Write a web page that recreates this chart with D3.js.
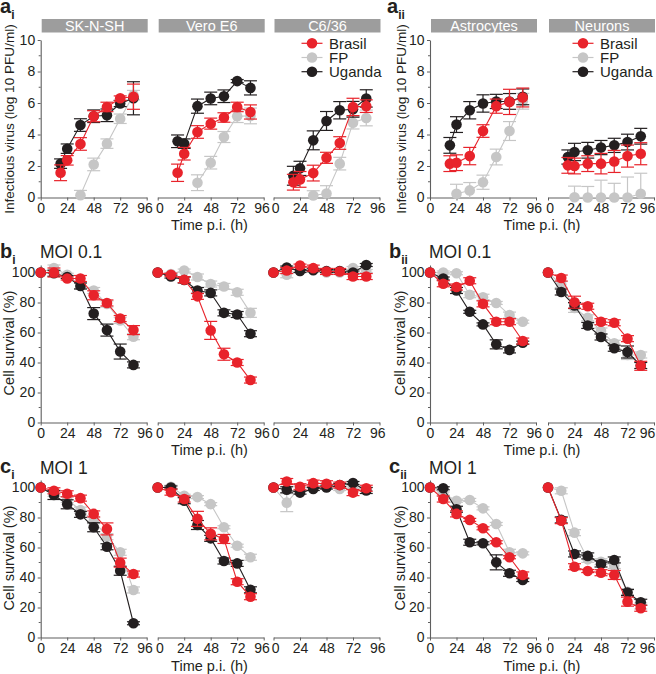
<!DOCTYPE html>
<html><head><meta charset="utf-8">
<script src="https://cdn.jsdelivr.net/npm/d3@7"></script>
<style>body{margin:0;background:#fff} svg{display:block} text{font-family:"Liberation Sans",Arial,sans-serif}</style>
</head><body><svg id="c" width="656" height="674"></svg>
<script>
// ---------- data ----------
const cellsLeft = ["SK-N-SH", "Vero E6", "C6/36"];
const cellsRight = ["Astrocytes", "Neurons"];
const seriesNames = ["Brasil", "FP", "Uganda"];
const timeTicks = [0, 24, 48, 72, 96];
const virusTicks = [0, 2, 4, 6, 8, 10];
const survivalTicks = [0, 20, 40, 60, 80, 100];
// each point: [hours p.i., mean, error]
// (a) infectious virus, log10 PFU/ml
const virusSKNSH = {
  Brasil: [[18,1.57,0.5],[24,2.36,0.3],[36,3.4,0.4],[48,5.16,0.35],[60,5.75,0.3],[72,6.3,0.15],[84,6.4,0.8]],
  FP:     [[36,0.15,0.3],[48,2.1,0.4],[60,3.42,0.3],[72,5.0,0.3],[84,6.5,0.3]],
  Uganda: [[18,2.15,0.3],[24,3.1,0.3],[36,4.6,0.4],[48,5.16,0.4],[60,5.22,0.4],[72,5.97,0.2],[84,6.3,1.05]]
};
const virusVero = {
  Brasil: [[18,1.57,0.55],[24,2.78,0.4],[36,4.16,0.4],[48,4.69,0.35],[60,5.08,0.3],[72,5.75,0.3],[84,5.43,0.45]],
  FP:     [[36,0.94,0.5],[48,2.21,0.4],[60,3.84,0.35],[72,5.16,0.4],[84,5.18,0.5]],
  Uganda: [[18,3.57,0.4],[24,3.42,0.3],[36,5.8,0.45],[48,6.29,0.4],[60,6.43,0.4],[72,7.39,0.1],[84,6.96,0.45]]
};
const virusC636 = {
  Brasil: [[18,0.97,0.5],[24,1.15,0.5],[36,1.55,0.5],[48,2.52,0.35],[60,3.46,0.4],[72,5.75,0.55],[84,5.8,0.4]],
  FP:     [[36,0.13,0.3],[48,0.25,0.5],[60,2.15,0.4],[72,4.75,0.4],[84,5.05,0.5]],
  Uganda: [[18,1.38,0.6],[24,1.85,0.45],[36,3.63,0.6],[48,4.86,0.6],[60,5.54,0.55],[72,5.6,0.5],[84,6.29,0.55]]
};
const virusAstro = {
  Brasil: [[18,2.15,0.5],[24,2.21,0.5],[36,2.63,0.55],[48,4.22,0.4],[60,5.8,0.45],[72,6.07,0.8],[84,6.35,0.6]],
  FP:     [[24,0.24,0.6],[36,0.45,0.5],[48,0.97,0.45],[60,2.57,0.5],[72,4.22,0.6],[84,6.11,0.5]],
  Uganda: [[18,3.31,0.5],[24,4.63,0.5],[36,5.54,0.55],[48,5.97,0.55],[60,6.1,0.45],[72,6.1,0.5],[84,6.39,0.5]]
};
const virusNeuron = {
  Brasil: [[18,2.04,0.5],[24,2.0,0.5],[36,2.15,0.5],[48,2.15,0.65],[60,2.29,0.7],[72,2.63,0.7],[84,2.78,0.7]],
  FP:     [[24,0.02,0.7],[36,0.0,0.7],[48,0.0,1.1],[60,0.0,0.9],[72,0.0,1.3],[84,0.24,1.3]],
  Uganda: [[18,2.57,0.45],[24,2.89,0.55],[36,3.0,0.5],[48,3.17,0.45],[60,3.31,0.45],[72,3.52,0.5],[84,3.89,0.5]]
};
// (b) cell survival %, MOI 0.1
const survLowSKNSH = {
  Brasil: [[0,100,0],[12,100,3],[24,96,1],[36,96,2],[48,84.8,3],[60,79.7,2],[72,69.3,2],[84,61.6,3]],
  FP:     [[0,100,0],[12,103,2],[24,98.5,1],[36,91.2,2],[48,88,2],[60,79,2],[72,68,2],[84,57.2,2]],
  Uganda: [[0,100,0],[12,99.5,2],[24,97,1],[36,91,2],[48,72.6,4],[60,61.6,4],[72,47.3,5],[84,38.4,2]]
};
const survLowVero = {
  Brasil: [[0,100,0],[12,98.5,1],[24,95.2,2],[36,84.1,2],[48,61.4,6],[60,45.5,4],[72,40,2],[84,28.3,2]],
  FP:     [[0,100,0],[12,99,1],[24,101.3,1],[36,97,2],[48,92.3,2],[60,90.7,2],[72,86.8,2],[84,73.1,3]],
  Uganda: [[0,100,0],[12,97.3,1],[24,95,2],[36,88,2],[48,86.4,2],[60,73.1,2],[72,72,2],[84,59.2,2]]
};
const survLowC636 = {
  Brasil: [[0,100,0],[12,101.3,2],[24,104.6,1],[36,102.9,2],[48,100.7,2],[60,100.7,2],[72,97.3,2],[84,97.3,2]],
  FP:     [[0,100,0],[12,98.5,2],[24,101,1],[36,102,1],[48,100,1],[60,100,1],[72,103,1],[84,101,1]],
  Uganda: [[0,100,0],[12,103.3,1],[24,101,1],[36,101.5,1],[48,101,1],[60,101,1],[72,100,1],[84,105,1]]
};
const survLowAstro = {
  Brasil: [[0,100,0],[12,92.5,2],[24,90.3,2],[36,94.5,2],[48,79.1,2],[60,67.2,2],[72,67.2,2],[84,54.3,2]],
  FP:     [[0,100,0],[12,100,1],[24,99.5,1],[36,85.2,2],[48,83.5,2],[60,79.7,1],[72,71.6,2],[84,67.2,1]],
  Uganda: [[0,100,0],[12,96,1],[24,88,2],[36,73.8,1],[48,65.4,1],[60,52.1,3],[72,48.4,2],[84,53.2,1]]
};
const survLowNeuron = {
  Brasil: [[0,100,0],[12,96.3,2],[24,80.2,4],[36,77.5,2],[48,67.2,2],[60,66.5,2],[72,55.9,2],[84,37.8,3]],
  FP:     [[0,100,0],[12,92,2],[24,76.4,3],[36,69.8,2],[48,61,2],[60,52.8,2],[72,45,3],[84,45,2]],
  Uganda: [[0,100,0],[12,87,2],[24,78,2],[36,64.7,2],[48,57,2],[60,49.5,2],[72,47,4],[84,38,2]]
};
// (c) cell survival %, MOI 1
const survHighSKNSH = {
  Brasil: [[0,100,0],[12,97.8,2],[24,95.8,2],[36,92.9,2],[48,82.4,2],[60,72.4,4],[72,49.9,3],[84,42.3,2]],
  FP:     [[0,100,0],[12,96,2],[24,92,2],[36,84.9,2],[48,77.9,2],[60,67.2,2],[72,56.8,2],[84,31.7,2]],
  Uganda: [[0,100,0],[12,95,3],[24,88.8,3],[36,82.1,2],[48,73.5,3],[60,60.5,2],[72,44.5,3],[84,9.5,1]]
};
const survHighVero = {
  Brasil: [[0,100,0],[12,96.9,2],[24,92.3,2],[36,79.1,5],[48,69.1,4],[60,65.7,3],[72,37.2,2],[84,27.2,2]],
  FP:     [[0,100,0],[12,100.5,1],[24,94.5,1],[36,93.6,1],[48,88.9,1],[60,73.5,1],[72,61.2,1],[84,53.5,2]],
  Uganda: [[0,100,0],[12,100,1],[24,91.2,2],[36,75,3],[48,66.1,2],[60,51,2],[72,49.4,2],[84,31.8,2]]
};
const survHighC636 = {
  Brasil: [[0,100,0],[12,104,2],[24,100.5,2],[36,102.9,2],[48,102.5,2],[60,101.6,2],[72,96.6,2],[84,99.5,2]],
  FP:     [[0,100,0],[12,89.9,6],[24,100,1],[36,100,1],[48,101,1],[60,99,1],[72,100,1],[84,99,1]],
  Uganda: [[0,100,0],[12,98.5,2],[24,96.6,1],[36,99,1],[48,100,1],[60,101.7,1],[72,103,1],[84,98,2]]
};
const survHighAstro = {
  Brasil: [[0,100,0],[12,92.3,2],[24,82.4,2],[36,78.4,1],[48,72.8,1],[60,63.5,1],[72,53.5,1],[84,41.7,2]],
  FP:     [[0,100,0],[12,96,1],[24,91.2,1],[36,91.7,1],[48,86.1,1],[60,75.7,1],[72,56.8,2],[84,56.1,1]],
  Uganda: [[0,100,0],[12,99.5,1],[24,85.5,2],[36,63.5,2],[48,62.8,1],[60,50.1,5],[72,42.8,2],[84,38.3,1]]
};
const survHighNeuron = {
  Brasil: [[0,100,0],[12,77.9,2],[24,47.2,2],[36,44.3,1],[48,43.2,2],[60,41.7,3],[72,23.9,3],[84,19.5,2]],
  FP:     [[0,100,0],[12,97.8,2],[24,69.9,2],[36,52.1,2],[48,50.5,2],[60,48,2],[72,30.5,2],[84,21,2]],
  Uganda: [[0,100,0],[12,78.4,2],[24,55.7,2],[36,54.4,2],[48,49,2],[60,51.7,2],[72,30,2],[84,23.5,2]]
};

// ---------- styles / layout ----------
const colors = {Brasil: "#e8232b", FP: "#c6c6c6", Uganda: "#231f20"};
const drawOrder = ["FP", "Uganda", "Brasil"];
const axisColor = "#5f5f5f";
const tickFont = 14;
const leftX0 = [40.7, 157.7, 273.5];
const rightX0 = [430, 548];
const panelW = 106;

const svg = d3.select("#c");

const rows = {
  a: {y: d3.scaleLinear().domain([0, 10]).range([197.5, 40]), ticks: virusTicks, minor: [1,3,5,7,9]},
  b: {y: d3.scaleLinear().domain([0, 105]).range([422.5, 265]), ticks: survivalTicks, minor: [10,30,50,70,90]},
  c: {y: d3.scaleLinear().domain([0, 105]).range([637.5, 480]), ticks: survivalTicks, minor: [10,30,50,70,90]}
};

function styleAxis(g) {
  g.selectAll("path.domain").attr("stroke", axisColor).attr("stroke-width", 1.1);
  g.selectAll(".tick line").attr("stroke", axisColor).attr("stroke-width", 1);
  g.selectAll(".tick text").attr("font-size", tickFont).attr("fill", "#231f20")
    .attr("font-family", "'Liberation Sans', Arial, sans-serif");
}

function drawPanel(x0, row, data, withYAxis, lastShift) {
  const R = rows[row];
  const y = R.y;
  const x = d3.scaleLinear().domain([0, 96]).range([x0, x0 + panelW]);
  const yMin = y.domain()[0];
  // x axis
  const gx = svg.append("g").attr("transform", `translate(0,${y(yMin)})`)
    .call(d3.axisBottom(x).tickValues(timeTicks).tickSize(3).tickSizeOuter(0).tickPadding(2.5));
  styleAxis(gx);
  gx.selectAll(".tick text").attr("dx", d => d === 96 ? -(lastShift || 2.2) : (d === 0 && !withYAxis ? 1.6 : 0));
  if (withYAxis) {
    const gy = svg.append("g").attr("transform", `translate(${x0},0)`)
      .call(d3.axisLeft(y).tickValues(R.ticks).tickSize(3).tickSizeOuter(0).tickPadding(2.5));
    styleAxis(gy);
    gy.selectAll(null).data(R.minor).enter().append("line")
      .attr("x1", -2).attr("x2", 0).attr("y1", d => y(d)).attr("y2", d => y(d))
      .attr("stroke", axisColor);
  }
  const g = svg.append("g");
  drawOrder.forEach(name => {
    const d = data[name];
    const col = colors[name];
    g.append("path").attr("d", d3.line().x(p => x(p[0])).y(p => y(p[1]))(d))
      .attr("fill", "none").attr("stroke", col).attr("stroke-width", 1.1);
    const eb = g.append("g").attr("stroke", col).attr("stroke-width", 1.2);
    d.filter(p => p[2] > 0).forEach(p => {
      const hi = y(p[1] + p[2]);
      const lo = y(Math.max(yMin, p[1] - p[2]));
      const cx = x(p[0]);
      eb.append("line").attr("x1", cx).attr("x2", cx).attr("y1", hi).attr("y2", lo);
      eb.append("line").attr("x1", cx - 6.5).attr("x2", cx + 6.5).attr("y1", hi).attr("y2", hi);
      if (p[1] - p[2] > yMin)
        eb.append("line").attr("x1", cx - 6.5).attr("x2", cx + 6.5).attr("y1", lo).attr("y2", lo);
    });
    g.selectAll(null).data(d).enter().append("circle")
      .attr("cx", p => x(p[0])).attr("cy", p => y(p[1])).attr("r", 5.3).attr("fill", col);
  });
}

function strip(x0, label) {
  svg.append("rect").attr("x", x0 + 1).attr("y", 19).attr("width", panelW).attr("height", 13.5).attr("fill", "#9d9d9d");
  svg.append("text").attr("x", x0 + 1 + panelW / 2).attr("y", 30.6).attr("text-anchor", "middle")
    .attr("font-size", 14.5).attr("fill", "#fff").text(label);
}

function panelLabel(x, yb, letter, sub) {
  const t = svg.append("text").attr("x", x).attr("y", yb).attr("font-weight", "bold").attr("font-size", 20).attr("fill", "#231f20");
  t.append("tspan").text(letter);
  t.append("tspan").attr("font-size", 12).attr("dy", 6).text(sub);
}

function yTitle(x, yc, label, fs) {
  svg.append("text").attr("transform", `translate(${x},${yc}) rotate(-90)`).attr("text-anchor", "middle")
    .attr("font-size", fs || 14.5).attr("fill", "#231f20").text(label);
}

function xTitle(xc, yb) {
  svg.append("text").attr("x", xc).attr("y", yb).attr("text-anchor", "middle")
    .attr("font-size", 14.5).attr("fill", "#231f20").text("Time p.i. (h)");
}

function legend(xc, yTop) {
  seriesNames.forEach((name, i) => {
    const yy = yTop + i * 14.2;
    svg.append("line").attr("x1", xc - 10.5).attr("x2", xc + 10.5).attr("y1", yy).attr("y2", yy)
      .attr("stroke", colors[name]).attr("stroke-width", 1.2);
    svg.append("circle").attr("cx", xc).attr("cy", yy).attr("r", 5.3).attr("fill", colors[name]);
    svg.append("text").attr("x", xc + 17).attr("y", yy + 5.5).attr("font-size", 15).attr("fill", "#231f20").text(name);
  });
}

// ---------- row a ----------
const leftVirus = [virusSKNSH, virusVero, virusC636];
const rightVirus = [virusAstro, virusNeuron];
cellsLeft.forEach((c, i) => { strip(leftX0[i], c); drawPanel(leftX0[i], "a", leftVirus[i], i === 0); });
cellsRight.forEach((c, i) => { strip(rightX0[i], c); drawPanel(rightX0[i], "a", rightVirus[i], i === 0, i === 1 ? 7 : 0); });
legend(312, 43.3);
legend(583, 43.3);
panelLabel(0, 13, "a", "i");
panelLabel(387, 13, "a", "ii");
yTitle(14, 119, "Infectious virus (log 10 PFU/ml)", 13.6);
yTitle(406, 119, "Infectious virus (log 10 PFU/ml)", 13.6);
xTitle(209.5, 229.5);
xTitle(542, 229.5);

// ---------- row b ----------
const leftLow = [survLowSKNSH, survLowVero, survLowC636];
const rightLow = [survLowAstro, survLowNeuron];
leftLow.forEach((d, i) => drawPanel(leftX0[i], "b", d, i === 0));
rightLow.forEach((d, i) => drawPanel(rightX0[i], "b", d, i === 0, i === 1 ? 7 : 0));
panelLabel(0, 258, "b", "i");
panelLabel(389, 258, "b", "ii");
[40, 429].forEach(x => svg.append("text").attr("x", x).attr("y", 257.5).attr("font-size", 17.5).attr("fill", "#231f20").text("MOI 0.1"));
yTitle(14, 343, "Cell survival (%)");
yTitle(405, 343, "Cell survival (%)");
xTitle(209.5, 454.5);
xTitle(542, 454.5);

// ---------- row c ----------
const leftHigh = [survHighSKNSH, survHighVero, survHighC636];
const rightHigh = [survHighAstro, survHighNeuron];
leftHigh.forEach((d, i) => drawPanel(leftX0[i], "c", d, i === 0));
rightHigh.forEach((d, i) => drawPanel(rightX0[i], "c", d, i === 0, i === 1 ? 7 : 0));
panelLabel(0, 473, "c", "i");
panelLabel(389, 473, "c", "ii");
[40, 429].forEach(x => svg.append("text").attr("x", x).attr("y", 474).attr("font-size", 17.5).attr("fill", "#231f20").text("MOI 1"));
yTitle(14, 558, "Cell survival (%)");
yTitle(405, 558, "Cell survival (%)");
xTitle(209.5, 670.5);
xTitle(542, 670.5);
</script></body></html>
